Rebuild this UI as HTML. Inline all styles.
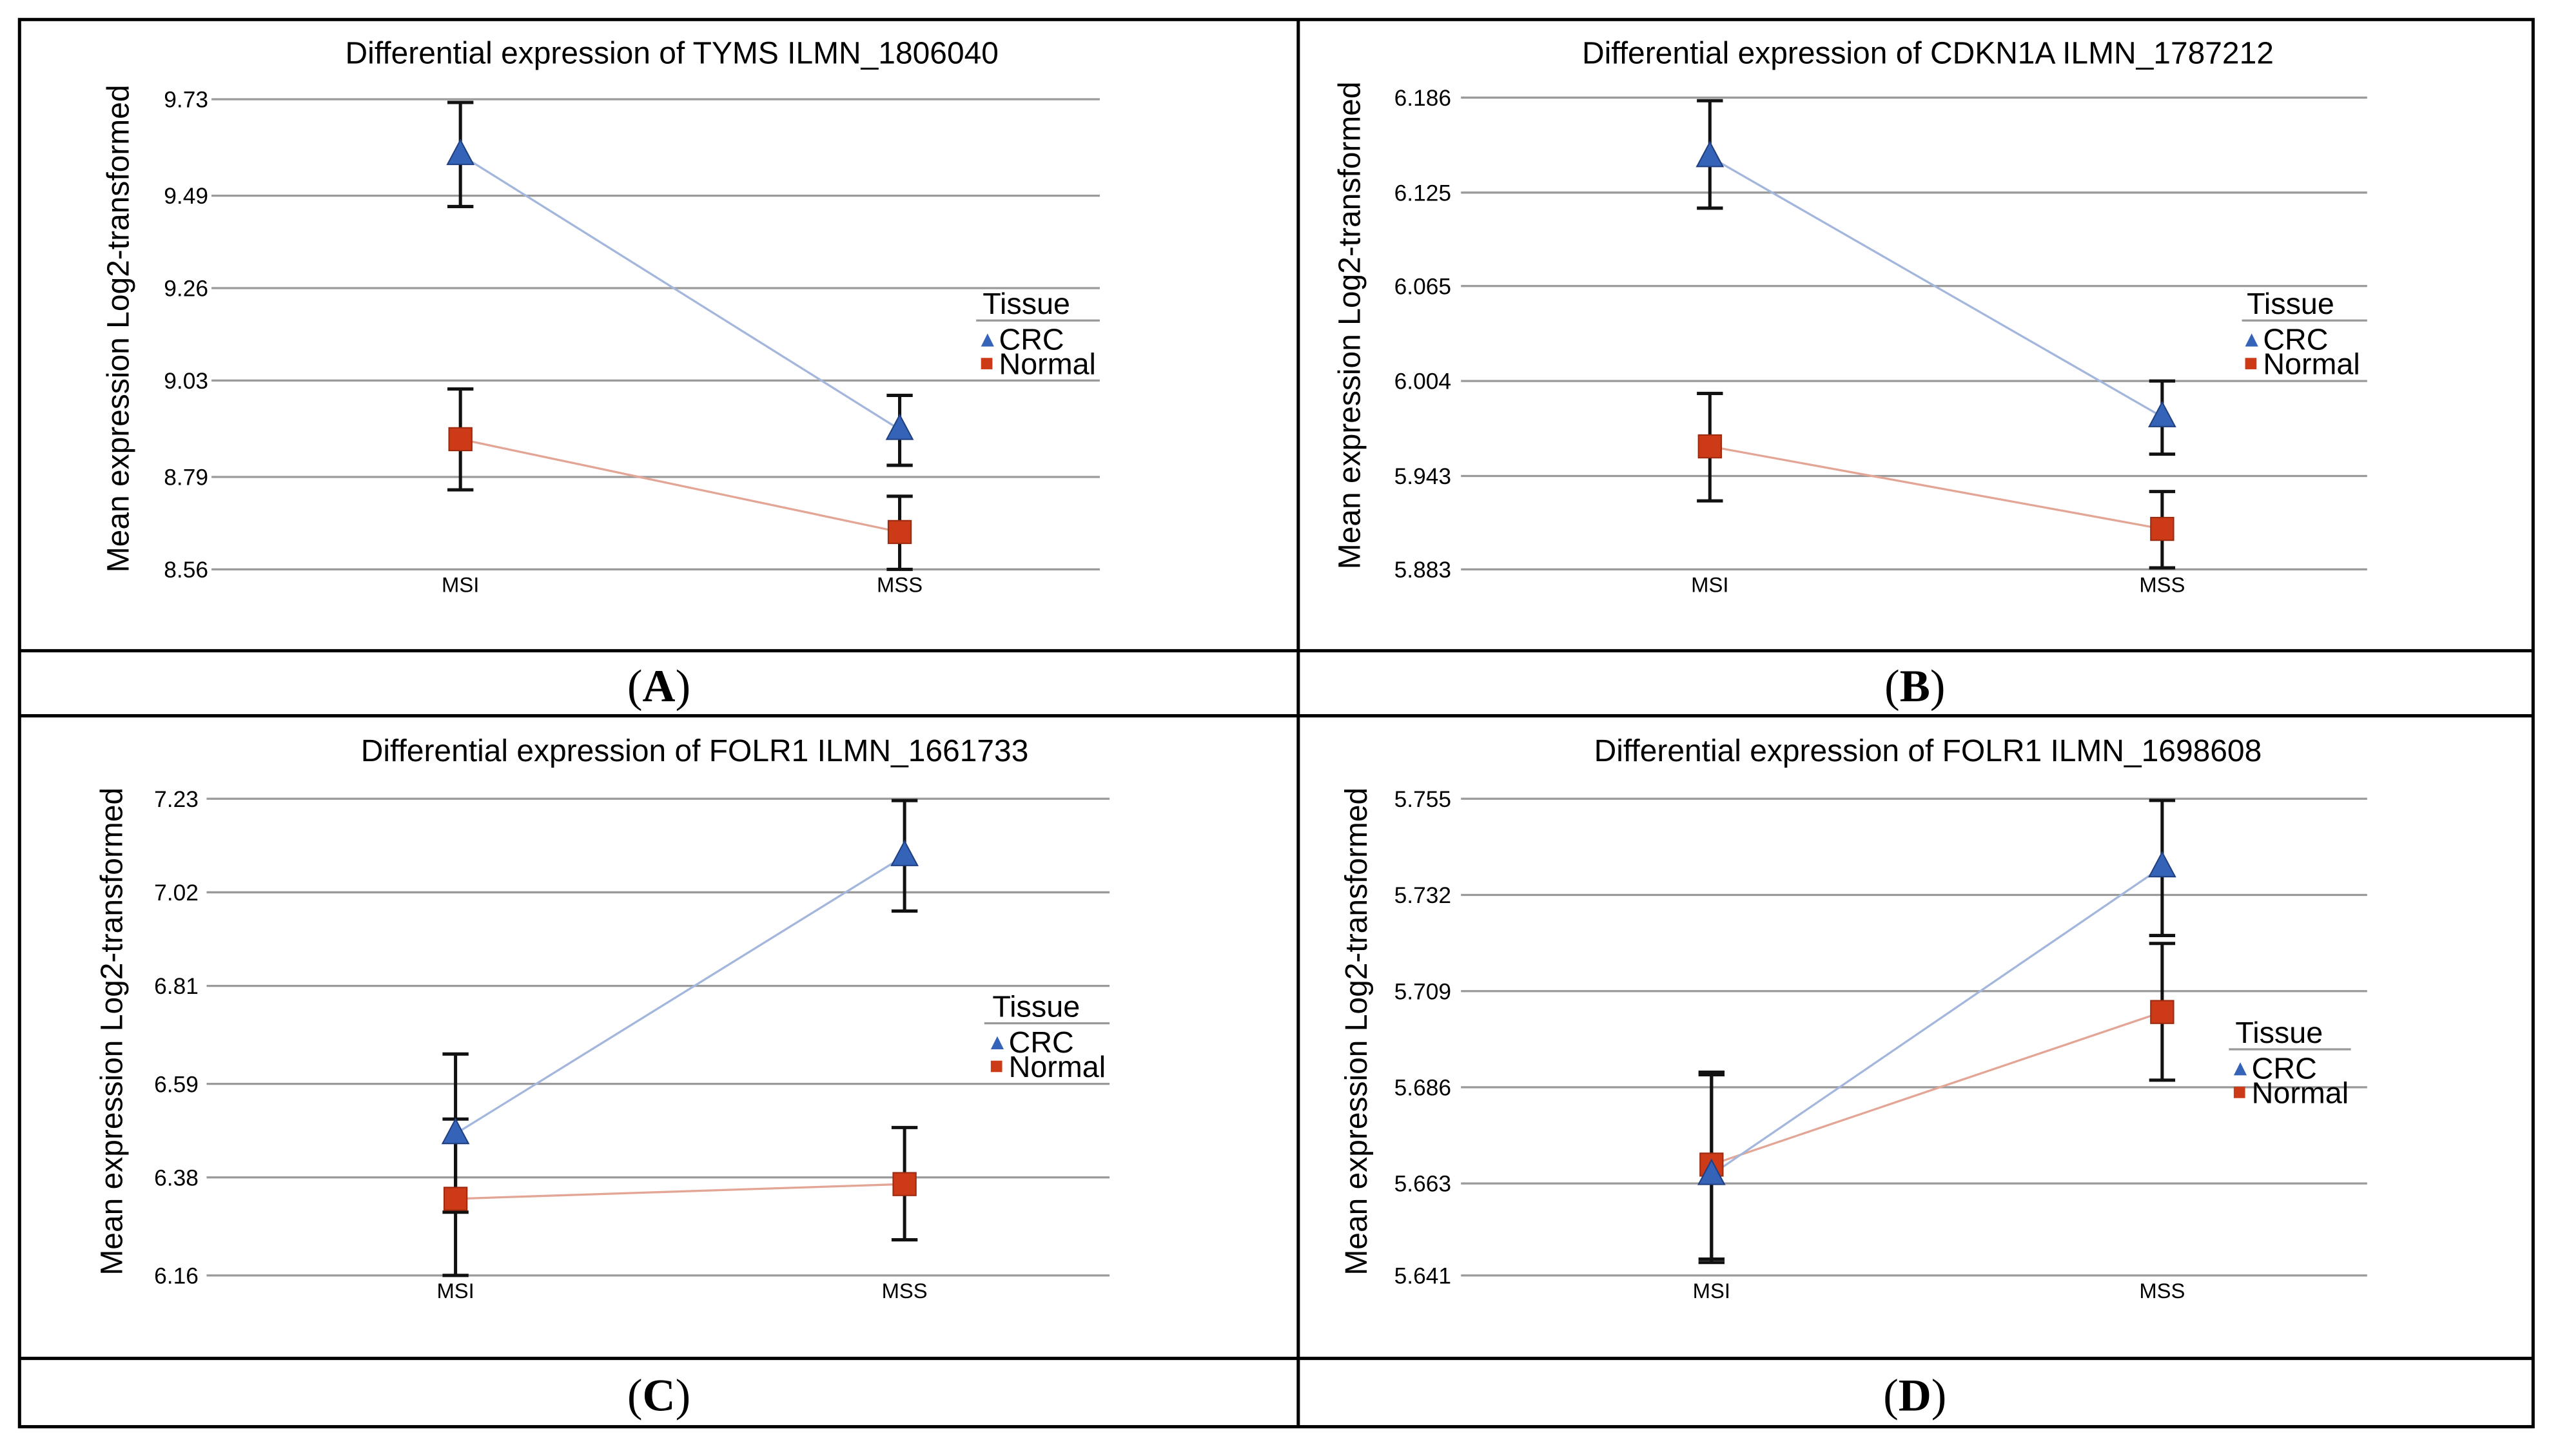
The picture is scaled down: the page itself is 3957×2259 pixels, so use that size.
<!DOCTYPE html>
<html><head><meta charset="utf-8"><style>
html,body{margin:0;padding:0;background:#fff}
svg{display:block}
text{font-family:"Liberation Sans",sans-serif}
text.serif{font-family:"Liberation Serif",serif}
</style></head><body>
<svg id="fig" width="3957" height="2259" viewBox="0 0 1568 895" preserveAspectRatio="none">
<rect x="0" y="0" width="1568" height="895" fill="#fff"/>
<g stroke="#000" stroke-width="2" fill="none">
<rect x="12" y="12" width="1545" height="865"/>
<line x1="798" y1="12" x2="798" y2="877"/>
<line x1="12" y1="400" x2="1557" y2="400"/>
<line x1="12" y1="440" x2="1557" y2="440"/>
<line x1="12" y1="835" x2="1557" y2="835"/>
</g>
<g id="charts"></g>
<g font-size="28" text-anchor="middle">
<text class="serif" x="405" y="431">(<tspan font-weight="bold">A</tspan>)</text>
<text class="serif" x="1177" y="431">(<tspan font-weight="bold">B</tspan>)</text>
<text class="serif" x="405" y="867">(<tspan font-weight="bold">C</tspan>)</text>
<text class="serif" x="1177" y="867">(<tspan font-weight="bold">D</tspan>)</text>
</g>
</svg>
<script>
const categories = ["MSI","MSS"];
const titles = ["Differential expression of TYMS ILMN_1806040","Differential expression of CDKN1A ILMN_1787212","Differential expression of FOLR1 ILMN_1661733","Differential expression of FOLR1 ILMN_1698608"];
const tickLabelsA = ["9.73","9.49","9.26","9.03","8.79","8.56"];
const tickLabelsB = ["6.186","6.125","6.065","6.004","5.943","5.883"];
const tickLabelsC = ["7.23","7.02","6.81","6.59","6.38","6.16"];
const tickLabelsD = ["5.755","5.732","5.709","5.686","5.663","5.641"];
const crcA = [9.592, 8.908], crcLoA = [9.463, 8.819], crcHiA = [9.722, 8.993];
const norA = [8.884, 8.653], norLoA = [8.758, 8.56], norHiA = [9.009, 8.742];
const crcB = [6.148, 5.981], crcLoB = [6.115, 5.957], crcHiB = [6.184, 6.004];
const norB = [5.962, 5.909], norLoB = [5.927, 5.884], norHiB = [5.996, 5.933];
const crcC = [6.478, 7.102], crcLoC = [6.302, 6.978], crcHiC = [6.657, 7.226];
const norC = [6.332, 6.365], norLoC = [6.16, 6.24], norHiC = [6.511, 6.492];
const crcD = [5.6651, 5.7387], crcLoD = [5.6441, 5.7223], crcHiD = [5.6896, 5.7546];
const norD = [5.6675, 5.704], norLoD = [5.6449, 5.6877], norHiD = [5.689, 5.7204];

const NS="http://www.w3.org/2000/svg";
const root=document.getElementById('charts');
function mk(tag,attrs,parent){const e=document.createElementNS(NS,tag);for(const k in attrs)e.setAttribute(k,attrs[k]);(parent||root).appendChild(e);return e;}

const layouts=[
 {x0:130,x1:676,yTop:61,yBot:350,cx:[283,553],tx:413,ty:39,ax:79,ay:202,lg:[604,193,600,676],tickX:128},
 {x0:898,x1:1455,yTop:60,yBot:350,cx:[1051,1329],tx:1185,ty:39,ax:836,ay:200,lg:[1381,193,1378,1455],tickX:892},
 {x0:127,x1:682,yTop:491,yBot:784,cx:[280,556],tx:427,ty:468,ax:75,ay:634,lg:[610,625,605,682],tickX:122},
 {x0:898,x1:1455,yTop:491,yBot:784,cx:[1052,1329],tx:1185,ty:468,ax:840,ay:634,lg:[1374,641,1370,1445],tickX:892}
];
const ticksAll=[tickLabelsA,tickLabelsB,tickLabelsC,tickLabelsD];
const data=[[crcA,crcLoA,crcHiA,norA,norLoA,norHiA],[crcB,crcLoB,crcHiB,norB,norLoB,norHiB],[crcC,crcLoC,crcHiC,norC,norLoC,norHiC],[crcD,crcLoD,crcHiD,norD,norLoD,norHiD]];

layouts.forEach((L,i)=>{
 const g=mk('g',{});
 
 
 const tk=ticksAll[i];
 const vMax=parseFloat(tk[0]), vMin=parseFloat(tk[tk.length-1]);
 const y=v=>L.yTop+(vMax-v)/(vMax-vMin)*(L.yBot-L.yTop);
 const t=mk('text',{x:L.tx,y:L.ty,'font-size':19,'text-anchor':'middle'},g);t.textContent=titles[i];
 
 
 const at=mk('text',{x:L.ax,y:L.ay,'font-size':19,'text-anchor':'middle',transform:`rotate(-90 ${L.ax} ${L.ay})`},g);at.textContent="Mean expression Log2-transformed";
 
 
 tk.forEach(s=>{
  const yy=y(parseFloat(s));
  const ln=mk('line',{x1:L.x0,x2:L.x1,y1:yy,y2:yy,stroke:'#9a9a9a','stroke-width':1.3},g);
  
  
  const tt=mk('text',{x:L.tickX,y:yy+5,'font-size':14,'text-anchor':'end'},g);tt.textContent=s;
  
  
 });
 categories.forEach((c,j)=>{
  const ct=mk('text',{x:L.cx[j],y:L.yBot+14,'font-size':13,'text-anchor':'middle'},g);ct.textContent=c;
  
  
 });
 const [crc,cLo,cHi,nor,nLo,nHi]=data[i];
 const l1=mk('line',{x1:L.cx[0],y1:y(nor[0]),x2:L.cx[1],y2:y(nor[1]),stroke:'#e3a595','stroke-width':1.3},g);
 
 
 const l2=mk('line',{x1:L.cx[0],y1:y(crc[0]),x2:L.cx[1],y2:y(crc[1]),stroke:'#a3b6dc','stroke-width':1.3},g);
 
 
 [[cLo,cHi,'crc'],[nLo,nHi,'normal']].forEach(([lo,hi,nm])=>{
  for(let j=0;j<2;j++){
   const x=L.cx[j];
   const e=mk('path',{d:`M${x-8},${y(hi[j])}H${x+8}M${x},${y(hi[j])}V${y(lo[j])}M${x-8},${y(lo[j])}H${x+8}`,stroke:'#111','stroke-width':2,fill:'none'},g);
   
   
  }
 });
 for(let j=0;j<2;j++){
  const x=L.cx[j],yy=y(nor[j]);
  const r=mk('rect',{x:x-7,y:yy-7,width:14,height:14,fill:'#cd3a17',stroke:'#9a2a10','stroke-width':0.8},g);
  
  
 }
 for(let j=0;j<2;j++){
  const x=L.cx[j],yy=y(crc[j]);
  const p=mk('path',{d:`M${x},${yy-9}L${x+8},${yy+6}L${x-8},${yy+6}Z`,fill:'#3563b8',stroke:'#1f3f80','stroke-width':0.8},g);
  
  
 }
 const [lx,ly,lx0,lx1]=L.lg;
 const lg=mk('g',{},g);
 
 
 const lt=mk('text',{x:lx,y:ly,'font-size':18.5},lg);lt.textContent="Tissue";
 mk('line',{x1:lx0,x2:lx1,y1:ly+4,y2:ly+4,stroke:'#999','stroke-width':1.3},lg);
 const tri=mk('path',{d:`M${lx+3},${ly+12}L${lx+7},${ly+20}L${lx-1},${ly+20}Z`,fill:'#3563b8'},lg);
 
 
 const c1=mk('text',{x:lx+10,y:ly+22,'font-size':18.5},lg);c1.textContent="CRC";
 
 
 const sq=mk('rect',{x:lx-1,y:ly+27,width:7,height:7,fill:'#cd3a17'},lg);
 
 
 const c2=mk('text',{x:lx+10,y:ly+37,'font-size':18.5},lg);c2.textContent="Normal";
 
 
});
</script>
</body></html>
